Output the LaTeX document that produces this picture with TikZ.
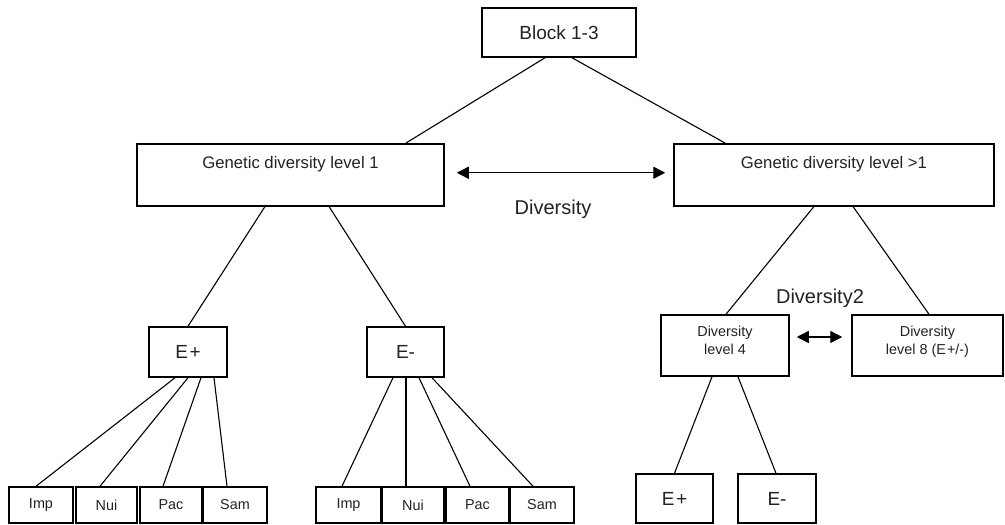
\documentclass[tikz,border=0pt]{standalone}
\usepackage{fontspec}
\setmainfont{Liberation Sans}
\usetikzlibrary{arrows.meta}
\definecolor{txt}{RGB}{34,34,34}
\begin{document}
\begin{tikzpicture}[x=1pt,y=-1pt,
  box/.style={draw=black,line width=1.5pt,rectangle,inner sep=0pt,text=txt},
  big/.style={font=\fontsize{19}{22}\selectfont},
  mid/.style={font=\fontsize{16.7}{20}\selectfont},
  small/.style={font=\fontsize{14.4}{18}\selectfont},
  lbl/.style={font=\fontsize{20}{24}\selectfont,text=txt,inner sep=0pt},
  conn/.style={draw=black,line width=1.1pt},
  dbl/.style={draw=black,line width=1.4pt,{Triangle[length=12pt,width=12pt]}-{Triangle[length=12pt,width=12pt]}},
  leaf/.style={box,small,minimum height=36pt}]
\useasboundingbox (0,0) rectangle (1005,525);
% top
\node[box,big,minimum width=154pt,minimum height=49pt] (block) at (559,32.5) {Block 1-3};
\node[box,mid,anchor=north,minimum width=307pt,text height=25pt,text depth=37pt] (gdl1) at (290.5,143) {Genetic diversity level 1};
\node[box,mid,anchor=north,minimum width=320pt,text height=25pt,text depth=37pt] (gdl2) at (834,143) {Genetic diversity level >1};
\draw[conn] ([xshift=-14pt]block.south) -- ([xshift=115.5pt]gdl1.north);
\draw[conn] ([xshift=13pt]block.south) -- ([xshift=-109pt]gdl2.north);
\draw[dbl,shorten <=12pt,shorten >=8pt] ([yshift=2pt]gdl1.east) -- ([yshift=2pt]gdl2.west);
\node[lbl] (div) at (553,209) {Diversity};
% left subtree
\node[box,big,minimum width=78pt,minimum height=50pt] (ep) at (188,352) {E\kern1.5pt+};
\node[box,big,minimum width=77pt,minimum height=50pt] (em) at (405.5,352) {E-};
\draw[conn] ([xshift=-25.5pt]gdl1.south) -- (ep.north);
\draw[conn] ([xshift=38.5pt]gdl1.south) -- (em.north);
% leaves group 1
\node[leaf,minimum width=64pt] (imp1) at (41,505) {Imp};
\node[leaf,minimum width=61pt] (nui1) at (106.5,505) {Nui};
\node[leaf,minimum width=62pt] (pac1) at (171,505) {Pac};
\node[leaf,minimum width=64pt] (sam1) at (235,505) {Sam};
\draw[conn] ([xshift=-13pt]ep.south) -- ([xshift=-5pt]imp1.north);
\draw[conn] ([xshift=0pt]ep.south) -- ([xshift=-6.5pt]nui1.north);
\draw[conn] ([xshift=13pt]ep.south) -- ([xshift=-8pt]pac1.north);
\draw[conn] ([xshift=26pt]ep.south) -- ([xshift=-8pt]sam1.north);
% leaves group 2
\node[leaf,minimum width=65pt] (imp2) at (348.5,505) {Imp};
\node[leaf,minimum width=62pt] (nui2) at (413,505) {Nui};
\node[leaf,minimum width=63pt] (pac2) at (477.5,505) {Pac};
\node[leaf,minimum width=64pt] (sam2) at (542,505) {Sam};
\draw[conn] ([xshift=-12.5pt]em.south) -- ([xshift=-6.5pt]imp2.north);
\draw[conn] ([xshift=0.5pt]em.south) -- ([xshift=-7pt]nui2.north);
\draw[conn] ([xshift=13.5pt]em.south) -- ([xshift=-7.5pt]pac2.north);
\draw[conn] ([xshift=26.5pt]em.south) -- ([xshift=-9pt]sam2.north);
% right subtree
\node[box,minimum width=128pt,minimum height=61pt,
  label={[small,anchor=north,align=center,inner sep=0pt,text=txt,yshift=-12pt]north:Diversity\\level 4}] (d4) at (725,345.5) {};
\node[box,minimum width=151pt,minimum height=61pt,
  label={[small,anchor=north,align=center,inner sep=0pt,text=txt,yshift=-12pt]north:Diversity\\level 8 (E\kern1pt+/-)}] (d8) at (927.5,345.5) {};
\draw[conn] ([xshift=-20pt]gdl2.south) -- ([xshift=1pt]d4.north);
\draw[conn] ([xshift=19pt]gdl2.south) -- ([xshift=1.5pt]d8.north);
\node[lbl] (div2) at (820,298) {Diversity2};
\draw[dbl,shorten <=7pt,shorten >=9pt] ([yshift=8.5pt]d4.east) -- ([yshift=8.5pt]d8.west);
\node[box,big,minimum width=77pt,minimum height=49pt] (ep2) at (674.5,498.5) {E\kern1.5pt+};
\node[box,big,minimum width=78pt,minimum height=49pt] (em2) at (777,498.5) {E-};
\draw[conn] ([xshift=-13pt]d4.south) -- ([xshift=0pt]ep2.north);
\draw[conn] ([xshift=13pt]d4.south) -- ([xshift=-1pt]em2.north);
\end{tikzpicture}
\end{document}
